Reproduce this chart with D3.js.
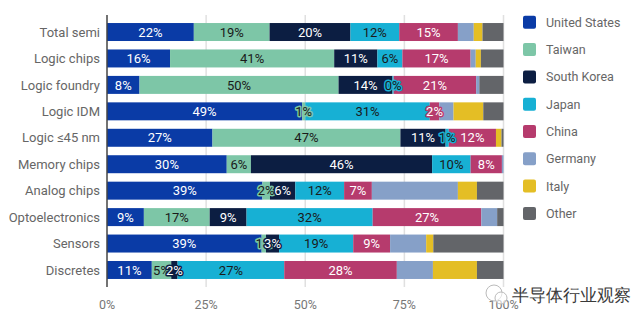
<!DOCTYPE html>
<html><head><meta charset="utf-8">
<script src="https://cdn.jsdelivr.net/npm/d3@7/dist/d3.min.js"></script>
<style>
body{margin:0;background:#fff;}
text{font-family:Roboto,"Noto Sans",sans-serif;}
</style></head><body>
<svg id="c" width="644" height="323"></svg>
<script>
const categories = ["Total semi","Logic chips","Logic foundry","Logic IDM","Logic \u226445 nm","Memory chips","Analog chips","Optoelectronics","Sensors","Discretes"];
const seriesNames = ["United States","Taiwan","South Korea","Japan","China","Germany","Italy","Other"];
const colors = ["#0a3ba6","#7dc6a7","#0c1e42","#17b0d4","#b63b6d","#86a0c8","#e4be25","#636569"];
const unitedStates = [21.9,15.9,8.2,49.2,26.6,30.2,39.2,9.3,39.0,11.3];
const taiwan       = [19.1,41.4,50.2,0.8,47.4,6.1,1.9,16.6,1.1,4.9];
const southKorea   = [20.4,10.9,13.6,0,11.4,45.7,6.4,9.3,3.3,1.6];
const japan        = [12.3,6.3,0.3,31.4,0.8,9.7,12.3,31.8,18.7,26.9];
const china        = [14.8,17.2,20.8,2.4,11.9,7.9,7.0,27.4,9.3,28.4];
const germany      = [4.0,1.3,0.8,3.6,0,0.4,21.7,4.0,9.1,9.1];
const italy        = [2.2,1.3,0,7.5,1.4,0,4.8,0,1.8,11.1];
const other        = [5.3,5.7,6.1,5.1,0.5,0,6.7,1.6,17.7,6.7];
const xTicks = [0,25,50,75,100];
const tickLabels = ["0%","25%","50%","75%","100%"];
const watermark = "半导体行业观察";

const seriesValues = [unitedStates,taiwan,southKorea,japan,china,germany,italy,other];
const labelColors = ["#fff","#1a1a1a","#fff","#1a1a1a","#fff"];

const svg = d3.select("#c");
const x = d3.scaleLinear().domain([0,100]).range([107,503.5]);
const y = d3.scaleBand().domain(categories).range([18.8,283.2]).paddingInner(0.32).paddingOuter(0.16);

// gridlines
svg.append("g").selectAll("line").data(xTicks.slice(1)).join("line")
  .attr("x1",d=>x(d)).attr("x2",d=>x(d)).attr("y1",15).attr("y2",287)
  .attr("stroke","#e0e0e0").attr("stroke-width",1.5);

// rows
const rows = categories.map((c,i)=>{
  let acc=0;
  return seriesValues.map((s,k)=>{const v=s[i]; const r={cat:c,k,v,x0:acc,x1:acc+v}; acc+=v; return r;});
});
const flat = rows.flat();
svg.append("g").selectAll("rect").data(flat.filter(d=>d.v>0)).join("rect")
  .attr("x",d=>x(d.x0)).attr("width",d=>x(d.x1)-x(d.x0))
  .attr("y",d=>y(d.cat)).attr("height",y.bandwidth())
  .attr("fill",d=>colors[d.k]);

// labels
svg.append("g").selectAll("text").data(flat.filter(d=>d.k<5 && d.v>0)).join("text")
  .attr("x",d=>x((d.x0+d.x1)/2)).attr("y",d=>y(d.cat)+y.bandwidth()/2)
  .attr("dy","0.36em").attr("text-anchor","middle")
  .attr("font-size",13)
  .attr("fill",d=>labelColors[d.k])
  .attr("stroke",d=>colors[d.k]).attr("stroke-width",3).attr("stroke-linejoin","round")
  .attr("paint-order","stroke")
  .text(d=>Math.round(d.v)+"%");

// axis line
svg.append("line").attr("x1",107).attr("x2",107).attr("y1",15).attr("y2",287)
  .attr("stroke","#444").attr("stroke-width",1.5);

// category labels
svg.append("g").selectAll("text").data(categories).join("text")
  .attr("x",100).attr("y",d=>y(d)+y.bandwidth()/2).attr("dy","0.36em")
  .attr("text-anchor","end").attr("font-size",13).attr("fill","#666").text(d=>d);

// x tick labels
svg.append("g").selectAll("text").data(xTicks).join("text")
  .attr("x",d=>x(d)).attr("y",304).attr("dy","0.36em").attr("text-anchor","middle")
  .attr("font-size",12.5).attr("fill","#777").text((d,i)=>tickLabels[i]);

// legend
const lg = svg.append("g").selectAll("g").data(seriesNames).join("g")
  .attr("transform",(d,i)=>`translate(523,${22.3+i*27.3})`);
lg.append("rect").attr("x",0).attr("y",-6.5).attr("width",13).attr("height",13).attr("rx",2)
  .attr("fill",(d,i)=>colors[i]);
lg.append("text").attr("x",23).attr("dy","0.36em").attr("font-size",12.5).attr("fill","#666").text(d=>d);

// watermark
const wm = svg.append("g").attr("transform","translate(494,293)");
wm.append("circle").attr("cx",0).attr("cy",0).attr("r",8).attr("fill","rgba(255,255,255,0.6)").attr("stroke","#bbb").attr("stroke-width",1);
wm.append("circle").attr("cx",7).attr("cy",5).attr("r",6).attr("fill","rgba(255,255,255,0.6)").attr("stroke","#bbb").attr("stroke-width",1);
svg.append("text").attr("x",512).attr("y",295).attr("dy","0.36em").attr("font-size",16.5)
  .attr("font-family","Noto Sans CJK SC").attr("fill","#3a3a3a").text(watermark);
</script></body></html>
